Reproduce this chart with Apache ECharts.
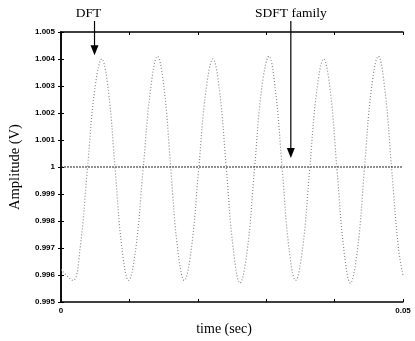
<!DOCTYPE html>
<html>
<head>
<meta charset="utf-8">
<script src="https://cdn.jsdelivr.net/npm/echarts@6/dist/echarts.min.js"></script>
<style>
  html, body { margin: 0; padding: 0; background: #fff; }
  #main { width: 415px; height: 341px; }
</style>
</head>
<body>
<div id="main"></div>
<script>
  // time samples (sec) and amplitude
  var dftTime = [
    0, 0.00174, 0.00279, 0.00385, 0.0049, 0.00596,
    0.00694, 0.00792, 0.0089, 0.00988,
    0.01094, 0.012, 0.01306, 0.0141,
    0.01508, 0.01606, 0.01704, 0.01802,
    0.01907, 0.02012, 0.02117, 0.0222,
    0.02319, 0.02418, 0.02517, 0.02616,
    0.02722, 0.02828, 0.02934, 0.0304,
    0.03137, 0.03235, 0.03332, 0.0343,
    0.03533, 0.03635, 0.03738, 0.0384,
    0.03938, 0.04035, 0.04133, 0.0423,
    0.04333, 0.04435, 0.04538, 0.0464,
    0.04738, 0.04835, 0.04933, 0.05
  ];
  var dftValue = [
    0.9962, 0.9958, 0.9970, 0.9999, 1.0028, 1.0040,
    1.0028, 0.9999, 0.9970, 0.9958,
    0.9970, 0.9999, 1.0028, 1.0041,
    1.0029, 0.9999, 0.9970, 0.9958,
    0.9970, 0.9999, 1.0028, 1.0040,
    1.0028, 0.9999, 0.9970, 0.9957,
    0.9969, 0.9999, 1.0029, 1.0041,
    1.0028, 0.9999, 0.9970, 0.9958,
    0.9970, 0.9999, 1.0028, 1.0040,
    1.0028, 0.9999, 0.9970, 0.9957,
    0.9969, 0.9999, 1.0029, 1.0041,
    1.0028, 0.9999, 0.9970, 0.9960
  ];
  var sdftTime = [0, 0.05];
  var sdftValue = [1, 1];

  var dftData = dftTime.map(function (t, i) { return [t, dftValue[i]] })
  var sdftData = sdftTime.map(function (t, i) { return [t, sdftValue[i]] })

  var serif = 'Liberation Serif'
  var axisLine = { show: true, lineStyle: { color: '#000', width: 1.5 } }
  var tickIn = { show: true, inside: true, length: 3, lineStyle: { color: '#000' } }

  var myChart = echarts.init(document.getElementById('main'))
  var option = {
    animation: false,
    grid: { left: 59, right: 12, top: 32, bottom: 35 },
    xAxis: [
      {
        type: 'value', min: 0, max: 0.05, interval: 0.01,
        name: 'time (sec)', nameLocation: 'middle', nameGap: 20,
        nameTextStyle: { fontFamily: serif, fontSize: 14, color: '#000', padding: [0, 16, 0, 0] },
        axisLine: axisLine, axisTick: tickIn, splitLine: { show: false },
        axisLabel: {
          fontFamily: 'Liberation Sans', fontWeight: 'bold', fontSize: 8, color: '#000', margin: 5,
          formatter: function (v) {
            if (Math.abs(v) < 1e-9) return '0'
            if (Math.abs(v - 0.05) < 1e-9) return '0.05'
            return ''
          }
        }
      },
      {
        type: 'value', position: 'top', min: 0, max: 0.05, interval: 0.01,
        axisLine: axisLine, axisTick: tickIn, axisLabel: { show: false }, splitLine: { show: false }
      }
    ],
    yAxis: [
      {
        type: 'value', min: 0.995, max: 1.005, interval: 0.001,
        name: 'Amplitude (V)', nameLocation: 'middle', nameGap: 38,
        nameTextStyle: { fontFamily: serif, fontSize: 14.5, color: '#000' },
        axisLine: axisLine, axisTick: tickIn, splitLine: { show: false },
        axisLabel: {
          fontFamily: 'Liberation Sans', fontWeight: 'bold', fontSize: 8, color: '#000', margin: 6,
          formatter: function (v) {
            if (Math.abs(v - 1) < 1e-9) return '1'
            return v.toFixed(3)
          }
        }
      },
      {
        type: 'value', position: 'right', min: 0.995, max: 1.005, interval: 0.001,
        axisLine: axisLine, axisTick: tickIn, axisLabel: { show: false }, splitLine: { show: false }
      }
    ],
    series: [
      {
        name: 'DFT', type: 'line', data: dftData, smooth: 0.4, symbol: 'none',
        lineStyle: { color: '#8a8a8a', width: 1.2, type: [1, 2] }
      },
      {
        name: 'SDFT family', type: 'line', data: sdftData, symbol: 'none',
        lineStyle: { color: '#222', width: 1.2, type: [2, 1] }
      }
    ]
  }
  myChart.setOption(option)

  // 箭头标注
  var tipDft = myChart.convertToPixel({ gridIndex: 0 }, [0.0049, 1.0041])
  var tipSdft = myChart.convertToPixel({ gridIndex: 0 }, [0.0336, 1])
  function arrow (x, yTop, yTip) {
    return [
      { type: 'line', shape: { x1: x, y1: yTop, x2: x, y2: yTip - 8 }, style: { stroke: '#000', lineWidth: 1.2 } },
      { type: 'polygon', shape: { points: [[x - 4, yTip - 11], [x + 4, yTip - 11], [x, yTip - 1]] }, style: { fill: '#000' } }
    ]
  }
  myChart.setOption({
    graphic: [
      { type: 'text', x: tipDft[0] - 6, y: 13, style: { text: 'DFT', font: '13.5px "Liberation Serif"', fill: '#000', textAlign: 'center', textVerticalAlign: 'middle' } },
      { type: 'text', x: tipSdft[0], y: 13, style: { text: 'SDFT family', font: '13.5px "Liberation Serif"', fill: '#000', textAlign: 'center', textVerticalAlign: 'middle' } }
    ].concat(arrow(tipDft[0], 21, tipDft[1])).concat(arrow(tipSdft[0], 21, tipSdft[1] - 8))
  })
</script>
</body>
</html>
